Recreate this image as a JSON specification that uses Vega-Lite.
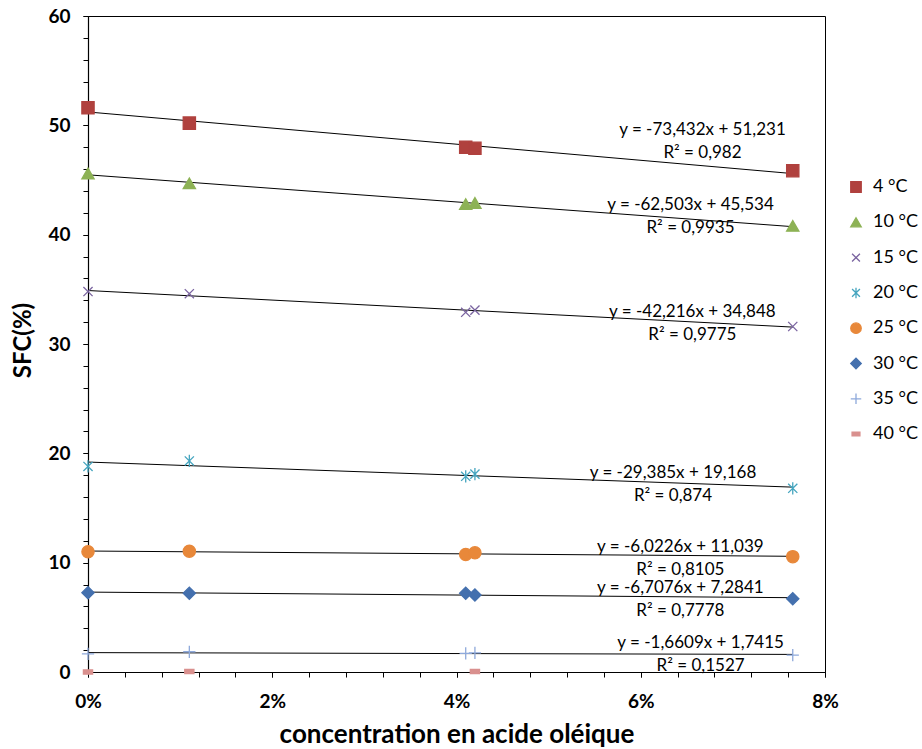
{
  "$schema": "https://vega.github.io/schema/vega-lite/v6.json",
  "width": 737,
  "height": 656,
  "autosize": {"type": "none"},
  "padding": {"left": 88, "top": 16, "right": 97, "bottom": 77},
  "background": "white",
  "config": {
    "font": "Lato",
    "view": {"stroke": "#000000", "strokeWidth": 1},
    "axis": {"grid": false, "domainColor": "#000000", "tickColor": "#000000", "labelColor": "#000000", "titleColor": "#000000", "domainWidth": 1.2, "tickWidth": 1, "labelFlush": false}
  },
  "datasets": {
    "pts": [
      {"series": "4 °C", "x": 0, "y": 51.6},
      {"series": "4 °C", "x": 0.011, "y": 50.2},
      {"series": "4 °C", "x": 0.041, "y": 48.0},
      {"series": "4 °C", "x": 0.042, "y": 47.9},
      {"series": "4 °C", "x": 0.0765, "y": 45.85},
      {"series": "10 °C", "x": 0, "y": 45.6},
      {"series": "10 °C", "x": 0.011, "y": 44.7},
      {"series": "10 °C", "x": 0.041, "y": 42.8},
      {"series": "10 °C", "x": 0.042, "y": 42.9},
      {"series": "10 °C", "x": 0.0765, "y": 40.8},
      {"series": "15 °C", "x": 0, "y": 34.8},
      {"series": "15 °C", "x": 0.011, "y": 34.6},
      {"series": "15 °C", "x": 0.041, "y": 32.9},
      {"series": "15 °C", "x": 0.042, "y": 33.1},
      {"series": "15 °C", "x": 0.0765, "y": 31.6},
      {"series": "20 °C", "x": 0, "y": 18.8},
      {"series": "20 °C", "x": 0.011, "y": 19.3},
      {"series": "20 °C", "x": 0.041, "y": 17.9},
      {"series": "20 °C", "x": 0.042, "y": 18.1},
      {"series": "20 °C", "x": 0.0765, "y": 16.8},
      {"series": "25 °C", "x": 0, "y": 11.0},
      {"series": "25 °C", "x": 0.011, "y": 11.05},
      {"series": "25 °C", "x": 0.041, "y": 10.75},
      {"series": "25 °C", "x": 0.042, "y": 10.9},
      {"series": "25 °C", "x": 0.0765, "y": 10.55},
      {"series": "30 °C", "x": 0, "y": 7.25},
      {"series": "30 °C", "x": 0.011, "y": 7.2},
      {"series": "30 °C", "x": 0.041, "y": 7.2},
      {"series": "30 °C", "x": 0.042, "y": 7.05},
      {"series": "30 °C", "x": 0.0765, "y": 6.7},
      {"series": "35 °C", "x": 0, "y": 1.65},
      {"series": "35 °C", "x": 0.011, "y": 1.85},
      {"series": "35 °C", "x": 0.041, "y": 1.7},
      {"series": "35 °C", "x": 0.042, "y": 1.75},
      {"series": "35 °C", "x": 0.0765, "y": 1.55},
      {"series": "40 °C", "x": 0, "y": 0},
      {"series": "40 °C", "x": 0.011, "y": 0.05},
      {"series": "40 °C", "x": 0.042, "y": 0.05}
    ],
    "labels": [
      {"series": "4 °C", "lx": 0.0667, "ly": 49.57, "label": "y = -73,432x + 51,231\nR² = 0,982"},
      {"series": "10 °C", "lx": 0.0654, "ly": 42.71, "label": "y = -62,503x + 45,534\nR² = 0,9935"},
      {"series": "15 °C", "lx": 0.0656, "ly": 32.93, "label": "y = -42,216x + 34,848\nR² = 0,9775"},
      {"series": "20 °C", "lx": 0.0635, "ly": 18.2, "label": "y = -29,385x + 19,168\nR² = 0,874"},
      {"series": "25 °C", "lx": 0.0643, "ly": 11.43, "label": "y = -6,0226x + 11,039\nR² = 0,8105"},
      {"series": "30 °C", "lx": 0.0643, "ly": 7.68, "label": "y = -6,7076x + 7,2841\nR² = 0,7778"},
      {"series": "35 °C", "lx": 0.0665, "ly": 2.65, "label": "y = -1,6609x + 1,7415\nR² = 0,1527"}
    ]
  },
  "resolve": {"axis": {"x": "independent", "y": "independent"}},
  "layer": [
    {
      "data": {"name": "pts"},
      "transform": [
        {"filter": "datum.series !== '40 °C'"},
        {"regression": "y", "on": "x", "groupby": ["series"], "method": "linear"}
      ],
      "mark": {"type": "line", "color": "#000000", "strokeWidth": 1},
      "encoding": {
        "detail": {"field": "series"},
        "x": {"field": "x", "type": "quantitative", "scale": {"domain": [0, 0.08], "nice": false},
          "axis": {"orient": "bottom", "values": [0,0.004,0.008,0.012,0.016,0.02,0.024,0.028,0.032,0.036,0.04,0.044,0.048,0.052,0.056,0.06,0.064,0.068,0.072,0.076,0.08], "labels": false, "domain": false, "tickSize": 5, "title": null}},
        "y": {"field": "y", "type": "quantitative", "scale": {"domain": [0, 60], "nice": false},
          "axis": {"orient": "left", "values": [0,2,4,6,8,10,12,14,16,18,20,22,24,26,28,30,32,34,36,38,40,42,44,46,48,50,52,54,56,58,60], "labels": false, "domain": false, "tickSize": 5, "title": null}}
      }
    },
    {
      "data": {"name": "pts"},
      "mark": {"type": "point", "filled": true, "strokeWidth": 1.3, "opacity": 1, "size": 150},
      "encoding": {
        "x": {"field": "x", "type": "quantitative",
          "axis": {"orient": "bottom", "values": [0, 0.02, 0.04, 0.06, 0.08], "format": ".0%", "tickSize": 5, "labelFontSize": 19, "labelFontWeight": "bold", "labelPadding": 15,
            "title": "concentration en acide oléique", "titleFontSize": 26, "titleFontWeight": "bold", "titlePadding": 10}},
        "y": {"field": "y", "type": "quantitative",
          "axis": {"orient": "left", "values": [0, 10, 20, 30, 40, 50, 60], "tickSize": 5, "labelFontSize": 19, "labelFontWeight": "bold", "labelPadding": 13,
            "title": "SFC(%)", "titleFontSize": 24, "titleFontWeight": "bold", "titlePadding": 12, "titleY": 324}},
        "fill": {"field": "series", "type": "nominal",
          "scale": {"domain": ["4 °C","10 °C","15 °C","20 °C","25 °C","30 °C","35 °C","40 °C"],
            "range": ["#B0413E","#8DB255","#7A64A0","#45A5BF","#E8883A","#4470AE","#8EA9DB","#D9908E"]},
          "legend": {"title": null}},
        "stroke": {"field": "series", "type": "nominal",
          "scale": {"domain": ["4 °C","10 °C","15 °C","20 °C","25 °C","30 °C","35 °C","40 °C"],
            "range": ["#B0413E","#8DB255","#7A64A0","#45A5BF","#E8883A","#4470AE","#8EA9DB","#D9908E"]},
          "legend": {"title": null}},
        "shape": {"field": "series", "type": "nominal",
          "scale": {"domain": ["4 °C","10 °C","15 °C","20 °C","25 °C","30 °C","35 °C","40 °C"],
            "range": ["square", "triangle-up", "M-0.75,-0.75L0.75,0.75M0.75,-0.75L-0.75,0.75", "M-0.75,-0.75L0.75,0.75M0.75,-0.75L-0.75,0.75M0,-1L0,1", "circle", "diamond", "M-1,0L1,0M0,-1L0,1", "M-0.75,-0.35L0.75,-0.35L0.75,0.35L-0.75,0.35Z"]},
          "legend": {"title": null, "orient": "none", "legendX": 759, "legendY": 162, "padding": 0, "symbolSize": 110, "symbolStrokeWidth": 1.3, "labelFontSize": 18, "labelColor": "#000000", "rowPadding": 17.3, "labelOffset": 8}}
      }
    },
    {
      "data": {"name": "labels"},
      "mark": {"type": "text", "lineBreak": "\n", "align": "center", "baseline": "middle", "fontSize": 17, "lineHeight": 23, "color": "#000000"},
      "encoding": {
        "x": {"field": "lx", "type": "quantitative", "axis": null},
        "y": {"field": "ly", "type": "quantitative", "axis": null},
        "text": {"field": "label", "type": "nominal"}
      }
    }
  ]
}
